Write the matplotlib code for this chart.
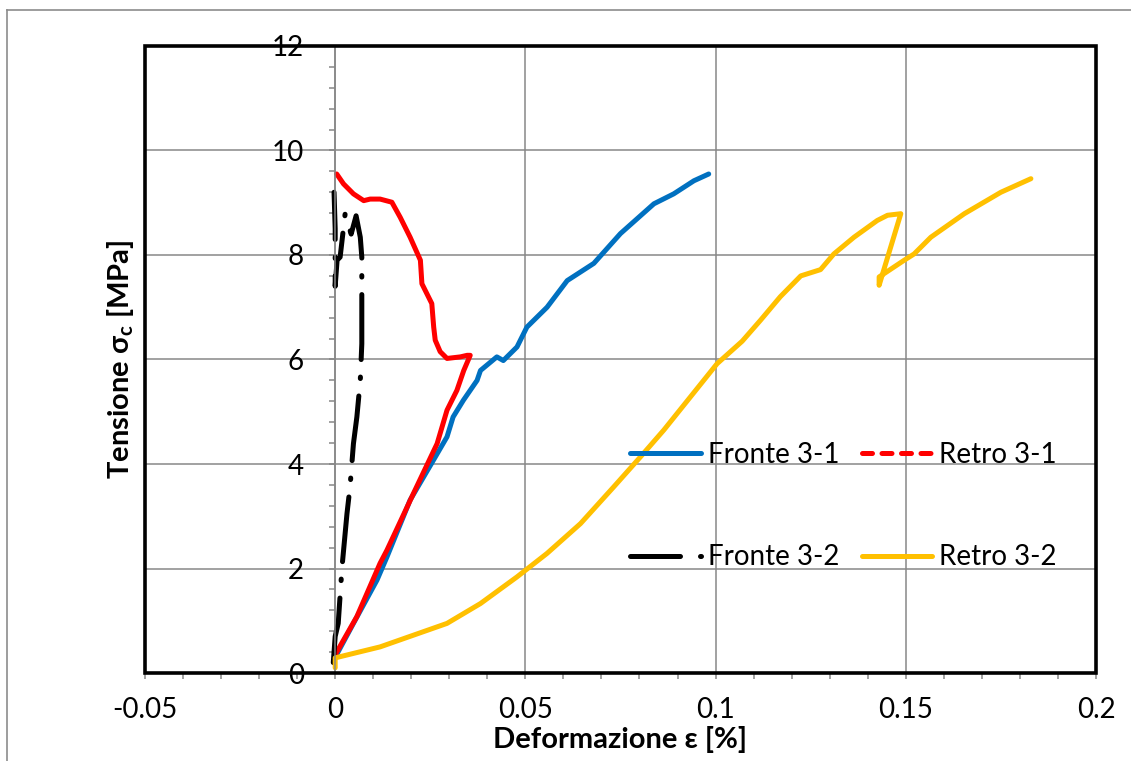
import matplotlib
matplotlib.use("Agg")
import matplotlib.pyplot as plt
from matplotlib.lines import Line2D
from matplotlib.patches import Rectangle
from matplotlib.ticker import MultipleLocator

plt.rcParams['font.family'] = ['Lato', 'DejaVu Sans']
plt.rcParams['mathtext.fontset'] = 'custom'
plt.rcParams['mathtext.rm'] = 'Lato:bold'
plt.rcParams['mathtext.it'] = 'Lato:bold'

# Fronte 3-1
x_f31 = [0, 0.0048, 0.011, 0.0136, 0.0197, 0.0258, 0.0294, 0.031, 0.0337, 0.0373, 0.0382,
         0.0425, 0.0442, 0.0478, 0.0504, 0.0557, 0.061, 0.068, 0.075, 0.0838, 0.089, 0.0943, 0.0982]
y_f31 = [0.3, 0.95, 1.78, 2.22, 3.31, 4.07, 4.52, 4.9, 5.22, 5.6, 5.79,
         6.05, 5.98, 6.24, 6.62, 7.0, 7.51, 7.84, 8.41, 8.98, 9.17, 9.42, 9.55]

# Retro 3-1
x_r31 = [0, 0.0057, 0.0118, 0.0136, 0.0206, 0.0268, 0.0294, 0.032, 0.0338, 0.0355, 0.0347,
         0.0329, 0.0294, 0.0276, 0.0263, 0.0259, 0.0254, 0.0241, 0.0228, 0.0224, 0.0197,
         0.0171, 0.0149, 0.0118, 0.0092, 0.0075, 0.0048, 0.0022, 0.0004]
y_r31 = [0.35, 1.08, 2.1, 2.35, 3.44, 4.39, 5.03, 5.41, 5.79, 6.08, 6.08,
         6.05, 6.02, 6.15, 6.37, 6.62, 7.07, 7.26, 7.45, 7.9, 8.34,
         8.72, 9.01, 9.07, 9.07, 9.04, 9.17, 9.36, 9.55]

# Fronte 3-2
x_f32 = [-0.0005, 0, 0.0008, 0.0018, 0.0031, 0.0039, 0.0048, 0.0057, 0.0066, 0.007, 0.007,
         0.007, 0.0066, 0.0055, 0.0042, 0.0026, 0.0013, 0.0005, 0, 0, -0.0003]
y_f32 = [0.2, 0.7, 0.95, 2.03, 3.05, 3.56, 4.39, 4.9, 5.6, 6.3, 7.4,
         7.96, 8.34, 8.75, 8.4, 8.78, 7.96, 7.9, 7.4, 8.5, 9.2]

# Retro 3-2
x_r32 = [0, 0, 0.0118, 0.0294, 0.0382, 0.0478, 0.0557, 0.0645, 0.0732, 0.0803, 0.0864,
         0.1004, 0.107, 0.1118, 0.117, 0.1224, 0.1276, 0.1311, 0.1364, 0.1425, 0.1452,
         0.1487, 0.143, 0.143, 0.1496, 0.1522, 0.1566, 0.1654, 0.175, 0.1829]
y_r32 = [0.1, 0.29, 0.5, 0.95, 1.33, 1.84, 2.29, 2.86, 3.56, 4.14, 4.65,
         5.92, 6.35, 6.75, 7.2, 7.6, 7.72, 8.02, 8.34, 8.66, 8.76,
         8.79, 7.42, 7.58, 7.9, 8.02, 8.34, 8.79, 9.2, 9.46]

series_names = ['Fronte 3-1', 'Retro 3-1', 'Fronte 3-2', 'Retro 3-2']
x_ticks = [-0.05, 0, 0.05, 0.1, 0.15, 0.2]
x_tick_labels = ['-0.05', '0', '0.05', '0.1', '0.15', '0.2']
y_ticks = [0, 2, 4, 6, 8, 10, 12]

blue = '#0070C0'
red = '#FF0000'
yellow = '#FFC000'
grid_gray = '#878787'
lw = 3.6
dashdot = (0, (10, 4, 0.3, 4))
fs = 20

fig = plt.figure(figsize=(11.31, 7.61), dpi=100)
ax = fig.add_axes([0.1282, 0.1156, 0.9690 - 0.1282, 0.9396 - 0.1156])

ax.plot(x_f31, y_f31, color=blue, lw=lw, solid_capstyle='round', solid_joinstyle='round')
ax.plot(x_r31, y_r31, color=red, lw=lw, solid_capstyle='round', solid_joinstyle='round')
ax.plot(x_f32, y_f32, color='black', lw=lw, linestyle=(0, (13, 3.5, 0.3, 3.5)),
        dash_capstyle='round')
ax.plot(x_r32, y_r32, color=yellow, lw=lw, solid_capstyle='round', solid_joinstyle='round')

ax.set_xlim(-0.05, 0.2)
ax.set_ylim(0, 12)
ax.set_xticks(x_ticks)
ax.set_xticklabels(x_tick_labels)
ax.set_yticks(y_ticks)
ax.xaxis.set_minor_locator(MultipleLocator(0.01))
ax.yaxis.set_minor_locator(MultipleLocator(0.4))
ax.grid(True, which='major', color=grid_gray, lw=1.1)
ax.set_axisbelow(True)

# y axis crosses at x = 0, frame drawn separately
ax.spines['left'].set_position(('data', 0))
ax.spines['left'].set_color(grid_gray)
ax.spines['left'].set_linewidth(1.1)
ax.spines['bottom'].set_color(grid_gray)
ax.spines['bottom'].set_linewidth(1.1)
ax.spines['top'].set_visible(False)
ax.spines['right'].set_visible(False)

ax.tick_params(axis='both', which='both', direction='out', color=grid_gray, width=1.1, length=4.5)
ax.tick_params(axis='x', which='major', labelsize=fs, pad=13)
ax.tick_params(axis='y', which='major', labelsize=fs, pad=18)

ax.add_patch(Rectangle((0, 0), 1, 1, transform=ax.transAxes, fill=False,
                       ec='black', lw=2.6, clip_on=False, zorder=5))

ax.set_xlabel('Deformazione ε [%]', fontsize=21, fontweight='bold', labelpad=2)
ax.set_ylabel(r'Tensione σ$_{\rm c}$ [MPa]', fontsize=21, fontweight='bold')
ax.yaxis.set_label_coords(-0.0095, 0.5)

# legend fills column-wise, so order the handles for row-wise reading
handles = [
    Line2D([], [], color=blue, lw=lw, solid_capstyle='round'),
    Line2D([], [], color='black', lw=lw, linestyle=dashdot, dash_capstyle='round'),
    Line2D([], [], color=red, lw=lw, linestyle=(0, (2.0, 1.9)), dash_capstyle='round'),
    Line2D([], [], color=yellow, lw=lw, solid_capstyle='round'),
]
labels = [series_names[0], series_names[2], series_names[1], series_names[3]]
ax.legend(handles, labels, ncol=2, frameon=False, fontsize=fs,
          loc='upper left', bbox_to_anchor=(630 / 1131, 1 - 442 / 761),
          bbox_transform=fig.transFigure, borderpad=0, borderaxespad=0,
          handlelength=2.55, handletextpad=0.25, columnspacing=0.8, labelspacing=2.75)

# outer chart border
fig.add_artist(Line2D([7 / 1131, 1], [1 - 10 / 761, 1 - 10 / 761], transform=fig.transFigure,
                      color='#8c8c8c', lw=1.2))
fig.add_artist(Line2D([7 / 1131, 7 / 1131], [0, 1 - 10 / 761], transform=fig.transFigure,
                      color='#8c8c8c', lw=1.2))

fig.savefig('out.png', dpi=100)
